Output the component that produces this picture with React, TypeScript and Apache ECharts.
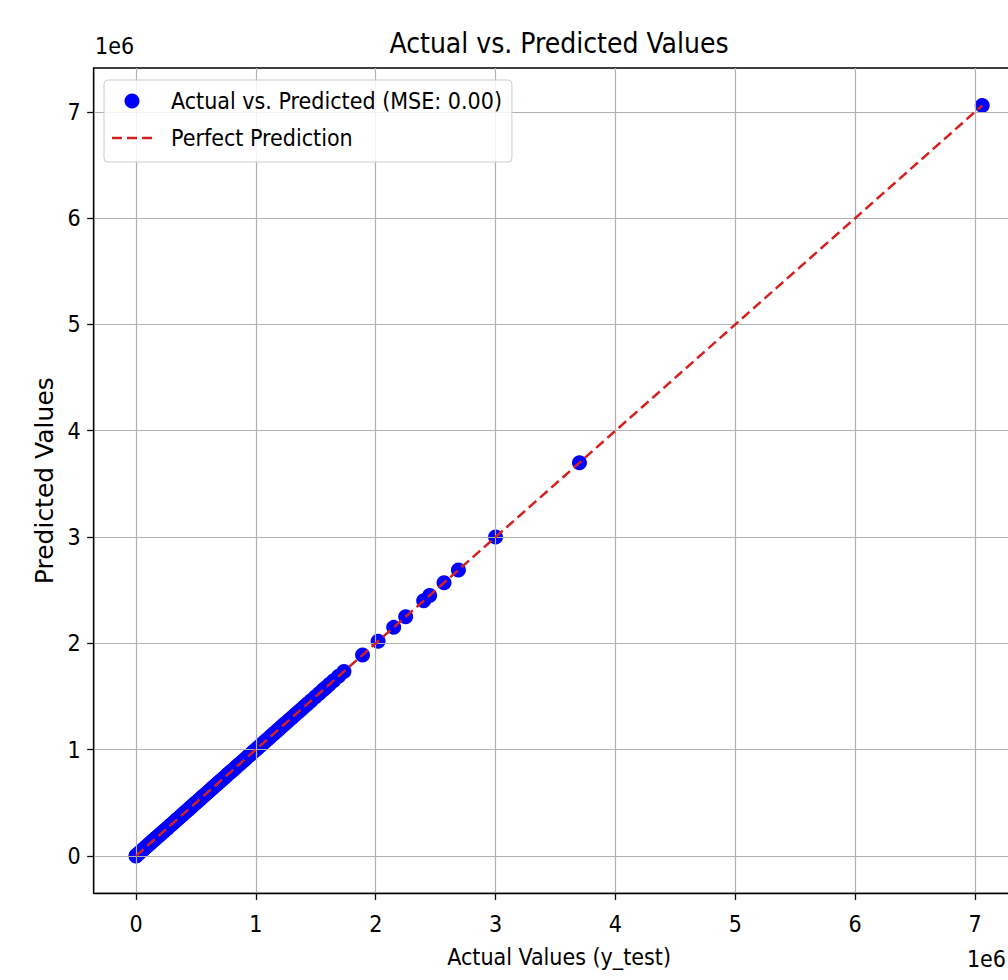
import React, { useEffect, useRef } from "react";
import * as echarts from "echarts";

// Actual (y_test) values
const actualValues = [
  0, 2000, 5000, 12000, 25000, 38000, 52000, 60000, 71000, 83000, 95000, 104000, 118000, 126000,
  139000, 151000, 163000, 170000, 184000, 197000, 205000, 219000, 228000, 241000, 256000, 263000,
  278000, 290000, 301000, 315000, 326000, 339000, 348000, 362000, 375000, 388000, 396000, 410000,
  423000, 437000, 449000, 458000, 472000, 485000, 497000, 510000, 524000, 536000, 549000, 560000,
  574000, 588000, 599000, 613000, 627000, 640000, 652000, 667000, 679000, 692000, 705000, 719000,
  733000, 748000, 760000, 774000, 789000, 801000, 816000, 830000, 845000, 859000, 872000, 888000,
  903000, 917000, 934000, 948000, 962000, 979000, 995000, 1010000, 1027000, 1043000, 1058000,
  1076000, 1092000, 1110000, 1127000, 1146000, 1163000, 1182000, 1200000, 1221000, 1240000,
  1262000, 1283000, 1305000, 1330000, 1354000, 1378000, 1405000, 1432000, 1460000, 1495000,
  1528000, 1560000, 1585000, 1612000, 1648000, 1690000, 1735000, 1890000, 2020000, 2150000,
  2250000, 2400000, 2450000, 2570000, 2690000, 3000000, 3700000, 7060000,
];

// Predicted values (MSE: 0.00 — identical to the actual values)
const predictedValues = [
  0, 2000, 5000, 12000, 25000, 38000, 52000, 60000, 71000, 83000, 95000, 104000, 118000, 126000,
  139000, 151000, 163000, 170000, 184000, 197000, 205000, 219000, 228000, 241000, 256000, 263000,
  278000, 290000, 301000, 315000, 326000, 339000, 348000, 362000, 375000, 388000, 396000, 410000,
  423000, 437000, 449000, 458000, 472000, 485000, 497000, 510000, 524000, 536000, 549000, 560000,
  574000, 588000, 599000, 613000, 627000, 640000, 652000, 667000, 679000, 692000, 705000, 719000,
  733000, 748000, 760000, 774000, 789000, 801000, 816000, 830000, 845000, 859000, 872000, 888000,
  903000, 917000, 934000, 948000, 962000, 979000, 995000, 1010000, 1027000, 1043000, 1058000,
  1076000, 1092000, 1110000, 1127000, 1146000, 1163000, 1182000, 1200000, 1221000, 1240000,
  1262000, 1283000, 1305000, 1330000, 1354000, 1378000, 1405000, 1432000, 1460000, 1495000,
  1528000, 1560000, 1585000, 1612000, 1648000, 1690000, 1735000, 1890000, 2020000, 2150000,
  2250000, 2400000, 2450000, 2570000, 2690000, 3000000, 3700000, 7060000,
];

const tickValues = [0, 1000000, 2000000, 3000000, 4000000, 5000000, 6000000, 7000000];
const axisMin = -353000;
const axisMax = 7413000;

const scatterName = "Actual vs. Predicted (MSE: 0.00)";
const lineName = "Perfect Prediction";

const COND = "'DejaVu Sans Condensed', 'DejaVu Sans', sans-serif";
const REG = "'DejaVu Sans', sans-serif";
const DASH_ICON = "path://M0,0h10v2.5h-10z M15,0h10v2.5h-10z M30,0h10v2.5h-10z";

export default function App() {
  const ref = useRef<HTMLDivElement>(null);

  useEffect(() => {
    if (!ref.current) return;
    const chart = echarts.init(ref.current, null, { renderer: "svg" });
    const points = actualValues.map((a, i) => [a, predictedValues[i]]);
    const lo = Math.min(...actualValues);
    const hi = Math.max(...actualValues);

    const axisCommon = (isX: boolean) => ({
      type: "value",
      min: axisMin,
      max: axisMax,
      z: 3,
      axisLine: { show: true, onZero: false, lineStyle: { color: "#000", width: 1.3 } },
      axisTick: {
        show: true,
        length: 6.5,
        customValues: tickValues,
        lineStyle: { color: "#000", width: 1.3 },
      },
      axisLabel: {
        customValues: tickValues,
        formatter: (v: number) => String(Math.round(v / 1e6)),
        color: "#000",
        fontSize: 23,
        fontFamily: COND,
        margin: isX ? 19 : 13,
      },
      splitLine: { show: true, lineStyle: { color: "#b0b0b0", width: 1.2 } },
    });

    chart.setOption({
      animation: false,
      backgroundColor: "#fff",
      title: {
        text: "Actual vs. Predicted Values",
        left: 559,
        top: 29,
        textAlign: "center",
        padding: 0,
        textStyle: { fontSize: 28, fontWeight: "normal", fontFamily: COND, color: "#000" },
      },
      grid: {
        left: 93.7,
        top: 68,
        width: 930.8,
        height: 825.4,
        show: true,
        borderColor: "#000",
        borderWidth: 1.3,
        backgroundColor: "transparent",
        containLabel: false,
      },
      legend: {
        orient: "vertical",
        left: 104,
        top: 80,
        z: 10,
        padding: [8, 10, 11, 8],
        itemWidth: 40,
        itemHeight: 15,
        itemGap: 11,
        backgroundColor: "rgba(255,255,255,0.85)",
        borderColor: "#cccccc",
        borderWidth: 1,
        borderRadius: 4,
        textStyle: {
          fontSize: 23,
          fontFamily: COND,
          color: "#000",
          lineHeight: 26,
          padding: [0, 0, 0, 14],
        },
        data: [
          { name: scatterName, icon: "circle" },
          { name: lineName, icon: DASH_ICON, itemStyle: { color: "#d62020" } },
        ],
      },
      xAxis: {
        ...axisCommon(true),
        name: "Actual Values (y_test)",
        nameLocation: "middle",
        nameGap: 52,
        nameTextStyle: { fontSize: 23, fontFamily: COND, color: "#000" },
      },
      yAxis: {
        ...axisCommon(false),
        name: "Predicted Values",
        nameLocation: "middle",
        nameGap: 36,
        nameTextStyle: { fontSize: 25, fontFamily: REG, color: "#000" },
      },
      graphic: [
        {
          type: "text",
          left: 95,
          top: 34,
          style: { text: "1e6", fontSize: 23, fontFamily: COND, fill: "#000" },
        },
        {
          type: "text",
          x: 1006,
          y: 959,
          style: {
            text: "1e6",
            fontSize: 23,
            fontFamily: COND,
            fill: "#000",
            align: "right",
            verticalAlign: "middle",
          },
        },
      ],
      series: [
        {
          name: scatterName,
          type: "scatter",
          data: points,
          symbol: "circle",
          symbolSize: 15,
          itemStyle: { color: "#0000ff", opacity: 1 },
          z: 2,
        },
        {
          name: lineName,
          type: "line",
          data: [
            [lo, lo],
            [hi, hi],
          ],
          symbol: "none",
          showSymbol: false,
          lineStyle: { color: "#d62020", width: 2.5, type: [10, 5] },
          itemStyle: { color: "#d62020" },
          z: 4,
        },
      ],
    });

    return () => chart.dispose();
  }, []);

  return (
    <div
      style={{
        position: "absolute",
        left: 0,
        top: 0,
        width: 1008,
        height: 980,
        overflow: "hidden",
        background: "#fff",
      }}
    >
      <div ref={ref} style={{ width: 1026, height: 980 }} />
    </div>
  );
}
